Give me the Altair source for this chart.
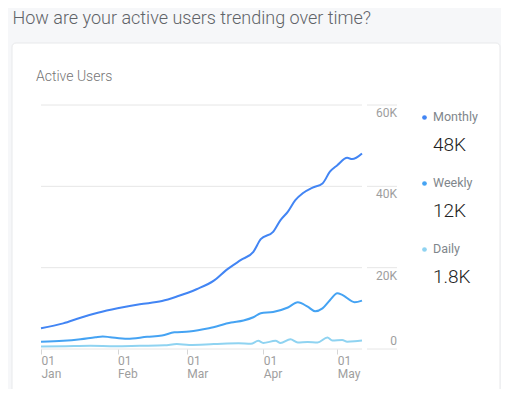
import altair as alt
import pandas as pd

# ---------------- data ----------------
series = ["Monthly", "Weekly", "Daily"]
colors = ["#4285f4", "#45a3f3", "#8fd3f1"]
latest = ["48K", "12K", "1.8K"]

start = pd.Timestamp("2021-01-01")

monthly_days = [0, 9, 16, 23, 31, 40, 49, 55, 63, 70, 75, 81, 86, 89, 94, 97, 100, 103, 106, 110, 114, 117, 120, 124, 126, 130]
monthly_k = [5.1, 6.3, 7.7, 8.9, 10.0, 11.0, 11.8, 12.9, 14.7, 16.8, 19.4, 21.9, 23.9, 27.0, 28.8, 31.7, 33.8, 36.6, 38.3, 39.7, 40.7, 43.6, 45.2, 47.0, 46.7, 48.1]

weekly_days = [0, 9, 16, 22, 25, 28, 35, 43, 49, 54, 60, 68, 77, 82, 86, 89, 94, 100, 104, 108, 111, 114, 117, 120, 122, 127, 130]
weekly_k = [1.8, 2.0, 2.4, 2.9, 3.1, 2.9, 2.5, 3.0, 3.3, 4.1, 4.3, 5.1, 6.5, 7.0, 7.8, 8.8, 9.1, 10.2, 11.5, 10.4, 9.3, 10.0, 12.0, 13.7, 13.3, 11.5, 11.9]

daily_days = [0, 10, 20, 30, 40, 50, 55, 60, 70, 80, 85, 88, 90, 95, 97, 101, 104, 108, 112, 116, 118, 122, 124, 127, 130]
daily_k = [0.6, 0.7, 0.8, 0.7, 0.8, 0.9, 1.2, 1.0, 1.2, 1.4, 1.3, 2.0, 1.5, 2.0, 1.5, 2.4, 1.6, 1.7, 1.6, 2.8, 2.1, 2.2, 1.8, 1.9, 2.1]

y_ticks = [0, 20000, 40000, 60000]
y_tick_labels = ["0", "20K", "40K", "60K"]
month_ticks = [1, 2, 3, 4, 5]

rows = []
for name, days, vals in zip(series, [monthly_days, weekly_days, daily_days], [monthly_k, weekly_k, daily_k]):
    for d, v in zip(days, vals):
        rows.append({
            "series": name,
            "date": (start + pd.Timedelta(days=d)).strftime("%Y-%m-%dT00:00:00Z"),
            "value": v * 1000,
        })
df = pd.DataFrame(rows)
ticks_df = pd.DataFrame({"v": y_ticks, "label": y_tick_labels})
one = pd.DataFrame({"k": [0]})

# ---------------- layout ----------------
OX, OY = 41, 105          # page coords of plot origin
W, H = 321, 244
FONT = "Roboto"
LABEL_GRAY = "#9e9e9e"
GRID = "#e6e6e6"

x_scale = alt.Scale(
    type="utc",
    domain=[alt.DateTime(year=2021, month=1, date=1, utc=True),
            alt.DateTime(year=2021, month=5, date=11, utc=True)],
)
y_scale = alt.Scale(domain=[0, 60000], nice=False)

card = alt.Chart(one).mark_rect(fill="white", stroke="#e8e9eb", cornerRadius=4).encode(
    x=alt.value(12 - OX), x2=alt.value(500 - OX),
    y=alt.value(43 - OY), y2=alt.value(430 - OY),
)

title = alt.Chart(one).mark_text(
    text="How are your active users trending over time?", align="left", baseline="alphabetic",
    font=FONT, fontSize=18, fontWeight=300, color="#5f6368",
).encode(x=alt.value(12.5 - OX), y=alt.value(24 - OY))

subtitle = alt.Chart(one).mark_text(
    text="Active Users", align="left", baseline="alphabetic",
    font=FONT, fontSize=14, fontWeight=300, color="#757575",
).encode(x=alt.value(36 - OX), y=alt.value(81 - OY))

grid_main = alt.Chart(ticks_df).mark_rule(color=GRID).encode(
    y=alt.Y("v:Q", scale=y_scale, axis=None),
    x=alt.value(0), x2=alt.value(W),
)

grid_ext = alt.Chart(ticks_df).mark_rule(color=GRID).encode(
    y=alt.Y("v:Q", scale=y_scale, axis=None),
    x=alt.value(326), x2=alt.value(356),
)

lines = alt.Chart(df).mark_line(strokeWidth=2, interpolate="monotone").encode(
    x=alt.X("date:T", scale=x_scale, axis=alt.Axis(
        values=[alt.DateTime(year=2021, month=m, date=1, utc=True) for m in month_ticks],
        labelExpr="[utcFormat(datum.value, '%d'), utcFormat(datum.value, '%b')]",
        grid=False, domain=False, ticks=True, tickColor="#d6d6d6", tickSize=5,
        labelAlign="left", labelBaseline="top", labelPadding=1, labelFontSize=12,
        labelColor=LABEL_GRAY, labelFont=FONT, labelLineHeight=13,
        labelFlush=False, labelOverlap=False, title=None, zindex=1,
    )),
    y=alt.Y("value:Q", scale=y_scale, axis=None),
    color=alt.Color("series:N", scale=alt.Scale(domain=series, range=colors), legend=None),
)

ylab_upper = alt.Chart(ticks_df).transform_filter("datum.v > 0").mark_text(
    align="right", baseline="alphabetic", dy=12, font=FONT, fontSize=12, color=LABEL_GRAY,
).encode(y=alt.Y("v:Q", scale=y_scale, axis=None), x=alt.value(356), text="label:N")

ylab_zero = alt.Chart(ticks_df).transform_filter("datum.v == 0").mark_text(
    align="right", baseline="alphabetic", dy=-4, font=FONT, fontSize=12, color=LABEL_GRAY,
).encode(y=alt.Y("v:Q", scale=y_scale, axis=None), x=alt.value(356), text="label:N")

legend_layers = []
for i, (name, col, val) in enumerate(zip(series, colors, latest)):
    base_y = 66 * i
    legend_layers.append(alt.Chart(one).mark_circle(size=22, color=col, opacity=1).encode(
        x=alt.value(383.5), y=alt.value(12.5 + base_y)))
    legend_layers.append(alt.Chart(one).mark_text(
        text=name, align="left", baseline="alphabetic", font=FONT, fontSize=12.5, color="#80868b",
    ).encode(x=alt.value(392), y=alt.value(16 + base_y)))
    legend_layers.append(alt.Chart(one).mark_text(
        text=val, align="left", baseline="alphabetic", font=FONT, fontSize=19, fontWeight=300, color="#212121",
    ).encode(x=alt.value(392), y=alt.value(46 + base_y)))

chart = alt.layer(
    card, title, subtitle, grid_main, grid_ext, lines, ylab_upper, ylab_zero, *legend_layers
).properties(
    width=W, height=H,
    autosize=alt.AutoSizeParams(type="none"),
    padding={"left": OX - 8, "top": OY - 8, "right": 493 - (OX - 8) - W, "bottom": 381 - (OY - 8) - H},
).configure(
    background="#f6f7f9",
).configure_view(stroke=None)

chart.save("out.html", embed_options={"renderer": "svg", "actions": False})
